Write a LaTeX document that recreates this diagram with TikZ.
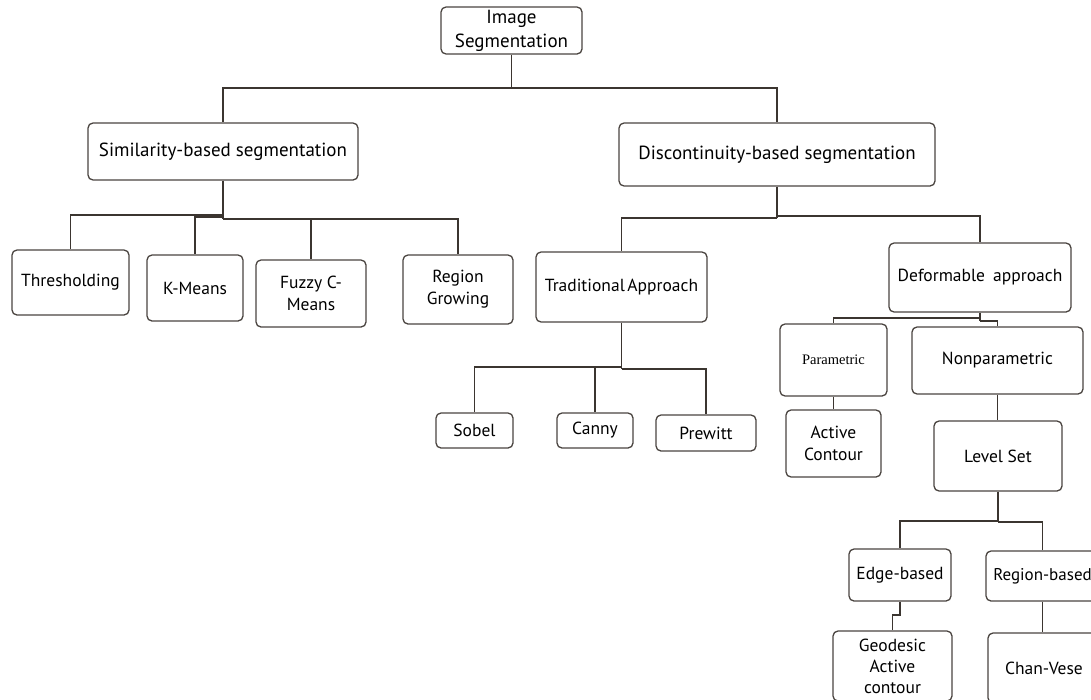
\documentclass[tikz,border=0pt]{standalone}
\usepackage{fontspec}
\setmainfont{PT Sans}
\newfontfamily\parfont{Liberation Serif}
\definecolor{boxc}{HTML}{4A4440}
\definecolor{linec}{HTML}{3B3530}
\begin{document}
\begin{tikzpicture}[x=1pt,y=-1pt,
  box/.style={draw=boxc, line width=1.3pt, rounded corners=5pt, inner sep=0pt,
    align=center, text=black, font=\fontsize{17.5}{22}\selectfont},
  big/.style={font=\fontsize{19}{24}\selectfont},
  wh/.style 2 args={minimum width=#1pt, minimum height=#2pt},
  link/.style={draw=linec, line width=1.2pt}]
\useasboundingbox (0,0) rectangle (1091,699);

% nodes
\node[box, big, wh={141}{47}] (img) at (511.5,30.5) {Image\\Segmentation};
\node[box, big, wh={270}{57}] (sim) at (223,151.5) {Similarity-based segmentation};
\node[box, big, wh={316}{63}] (dis) at (777,154.5) {Discontinuity-based segmentation};
\node[box, wh={117}{65}] (thr) at (70.5,282.5) {Thresholding};
\node[box, wh={96}{66}] (km) at (195,288) {K-Means};
\node[box, wh={110}{67}] (fcm) at (311,293.5) {Fuzzy C-\\Means};
\node[box, wh={110}{69}] (rg) at (458,289.5) {Region\\Growing};
\node[box, wh={171}{70}] (ta) at (621.5,287) {Traditional\hspace{0.15em}Approach};
\node[box, wh={182}{69}] (da) at (980,277.5) {Deformable\hspace{0.2em} approach};
\node[box, wh={107}{72}, font=\parfont\fontsize{14.5}{18}\selectfont] (par) at (833.5,360) {Parametric};
\node[box, wh={171}{67}] (np) at (997.5,360.5) {Nonparametric};
\node[box, wh={95}{67}] (ac) at (833.5,443.5) {Active\\Contour};
\node[box, wh={128}{70}] (ls) at (998,456) {Level Set};
\node[box, wh={77}{35}] (sob) at (474.5,430.5) {Sobel};
\node[box, wh={76}{35}] (can) at (595,430.5) {Canny};
\node[box, wh={100}{36}] (pre) at (706,433) {Prewitt};
\node[box, wh={102}{52}] (eb) at (900,575) {Edge-based};
\node[box, wh={113}{50}, font=\fontsize{17}{21}\selectfont] (rb) at (1042.5,576) {Region-based};
\node[box, wh={119}{70}, font=\fontsize{17.5}{21}\selectfont] (geo) at (892.5,666) {Geodesic\\Active\\contour};
\node[box, wh={112}{70}] (cv) at (1044,668) {Chan-Vese};

% junctions
\coordinate (j0) at (511.5,88);
\coordinate (j1a) at (223,215);
\coordinate (j1b) at (223,217);
\coordinate (j1c) at (223,219);
\coordinate (j2a) at (777,216);
\coordinate (j2b) at (777,218);
\coordinate (j3a) at (621.5,367);
\coordinate (j3b) at (621.5,369);
\coordinate (j4a) at (980,318);
\coordinate (j4b) at (980,321);
\coordinate (j5a) at (998,521);
\coordinate (j5b) at (998,522);
\coordinate (j6) at (900,615);

% connectors
\draw[link] (img.south) -- (j0);
\draw[link] (j0) -| (sim.north);
\draw[link] (j0) -| (dis.north);

\draw[link] (sim.south) -- (j1c);
\draw[link] (j1a) -| (thr.north);
\draw[link] (j1b) -| (km.north);
\draw[link] (j1c) -| (fcm.north);
\draw[link] (j1c) -| (rg.north);

\draw[link] (dis.south) -- (j2b);
\draw[link] (j2b) -| (ta.north);
\draw[link] (j2a) -| (da.north);

\draw[link] (ta.south) -- (j3b);
\draw[link] (j3a) -| (sob.north);
\draw[link] (j3a) -| (can.north);
\draw[link] (j3b) -| (pre.north);

\draw[link] (da.south) -- (j4b);
\draw[link] (j4a) -| (par.north);
\draw[link] (j4b) -| (np.north);
\draw[link] (par.south) -- (ac.north);
\draw[link] (np.south) -- (np.south |- ls.north);

\draw[link] (ls.south) -- (j5b);
\draw[link] (j5a) -| (eb.north);
\draw[link] (j5b) -| (rb.north);
\draw[link] (eb.south) -- (j6) -| (geo.north);
\draw[link] (rb.south) -- (rb.south |- cv.north);
\end{tikzpicture}
\end{document}
